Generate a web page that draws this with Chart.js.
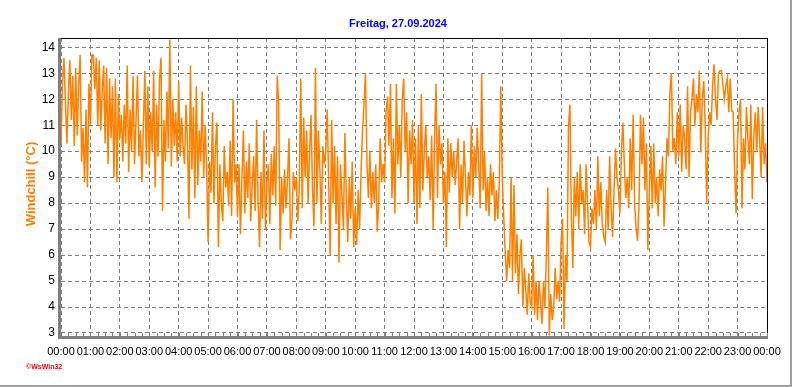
<!DOCTYPE html>
<html>
<head>
<meta charset="utf-8">
<title>Windchill 27.09.2024</title>
<script src="https://cdn.jsdelivr.net/npm/chart.js@4.4.1/dist/chart.umd.min.js"></script>
<style>
  html, body { margin: 0; padding: 0; background: #fff; }
  canvas { display: block; }
</style>
</head>
<body>
<canvas id="chart" width="792" height="387"></canvas>
<script>
// Tagesgang Windchill, WsWin32-Stil

const chartTitle = 'Freitag, 27.09.2024';
const yTitle = 'Windchill (°C)';
const hourLabels = ['00:00', '01:00', '02:00', '03:00', '04:00', '05:00', '06:00', '07:00', '08:00',
  '09:00', '10:00', '11:00', '12:00', '13:00', '14:00', '15:00', '16:00', '17:00', '18:00',
  '19:00', '20:00', '21:00', '22:00', '23:00', '00:00'];
const yTicks = [3, 4, 5, 6, 7, 8, 9, 10, 11, 12, 13, 14];
const stepMinutes = 3; // ein Messwert alle 3 Minuten

// Windchill in °C, eine Zeile pro Stunde (20 Werte)
const windchill = [
  10.2, 12.6, 13.6, 11.9, 10.3, 12.2, 13.5, 11.2, 12.9, 10.2, 13.2, 10.6, 12.5, 13.7, 9.6, 10.9, 8.8, 11.6, 8.6, 12.6,
  11.0, 13.7, 13.7, 12.4, 13.6, 11.0, 13.5, 10.8, 12.3, 13.3, 10.3, 13.2, 9.5, 12.8, 10.5, 12.5, 9.0, 12.8, 8.8, 12.2,
  10.5, 11.4, 9.6, 11.8, 10.3, 13.3, 9.2, 11.6, 10.0, 12.9, 9.5, 11.2, 12.9, 9.8, 10.8, 8.8, 11.0, 13.1, 9.5, 12.5,
  9.4, 11.5, 10.0, 13.1, 8.6, 11.8, 9.8, 12.8, 13.6, 7.7, 11.2, 9.6, 12.3, 10.1, 14.3, 9.4, 12.0, 10.2, 11.5, 9.6,
  12.7, 9.8, 11.3, 10.2, 9.5, 11.8, 10.3, 7.4, 13.3, 9.3, 11.7, 8.2, 12.5, 8.7, 10.8, 9.6, 12.3, 9.0, 11.0, 9.4,
  6.5, 9.6, 8.4, 11.5, 8.0, 10.2, 11.1, 6.3, 9.5, 8.0, 7.3, 10.2, 8.6, 9.2, 7.9, 10.4, 7.5, 12.0, 8.8, 9.5,
  7.5, 9.5, 6.8, 8.9, 10.8, 7.6, 9.6, 8.2, 10.3, 7.3, 8.7, 9.8, 7.7, 11.2, 8.0, 6.3, 9.2, 7.4, 10.8, 7.0,
  8.8, 9.5, 7.2, 9.9, 8.3, 10.2, 7.9, 12.9, 11.8, 6.2, 9.0, 7.6, 9.3, 7.8, 8.9, 10.5, 6.6, 7.3, 9.2, 8.5,
  9.0, 7.3, 8.6, 12.8, 7.8, 11.3, 9.0, 10.8, 8.0, 10.0, 11.4, 8.5, 7.1, 13.2, 8.0, 10.8, 9.3, 7.2, 10.2, 9.5,
  10.0, 11.6, 8.8, 6.0, 11.2, 8.0, 10.2, 7.2, 9.8, 5.7, 9.5, 8.3, 7.0, 10.7, 8.2, 6.5, 9.0, 7.4, 9.6, 6.3,
  7.8, 6.4, 8.5, 7.0, 9.2, 10.8, 11.8, 13.0, 9.5, 8.2, 10.0, 7.8, 9.2, 8.0, 9.5, 6.9, 8.0, 10.5, 8.8, 9.5,
  8.8, 11.5, 12.1, 10.2, 12.6, 8.2, 10.5, 7.6, 12.6, 9.5, 11.0, 9.0, 12.0, 12.8, 10.0, 11.5, 8.0, 10.8, 9.5, 11.2,
  8.0, 10.5, 7.2, 11.0, 7.8, 12.2, 8.5, 10.0, 11.0, 9.0, 9.8, 8.1, 10.6, 7.0, 10.5, 12.6, 8.2, 11.0, 9.5, 10.3,
  8.0, 9.2, 6.3, 10.5, 8.4, 10.3, 9.0, 10.0, 8.7, 9.6, 10.5, 7.0, 9.5, 8.0, 10.4, 9.0, 7.5, 9.2, 8.3, 11.0,
  8.2, 10.2, 9.0, 10.9, 9.5, 7.8, 13.0, 8.5, 10.0, 7.7, 9.0, 7.5, 9.5, 8.3, 9.2, 7.3, 8.5, 7.4, 8.8, 12.5,
  9.0, 7.5, 6.1, 5.0, 6.2, 5.5, 9.0, 5.0, 8.7, 5.3, 6.8, 4.5, 6.0, 6.6, 4.0, 5.5, 4.7, 3.7, 5.3, 4.2,
  4.0, 6.0, 3.7, 5.0, 3.5, 5.0, 4.2, 3.35, 5.0, 4.0, 6.0, 8.6, 2.9, 4.5, 3.5, 4.0, 5.5, 4.3, 5.0, 4.2,
  6.5, 7.4, 3.15, 6.0, 5.0, 10.9, 11.8, 7.5, 5.5, 9.0, 7.5, 9.2, 7.0, 9.5, 8.0, 8.5, 6.8, 9.5, 8.0, 6.5,
  6.3, 7.8, 7.2, 8.5, 7.0, 9.8, 7.5, 8.8, 7.2, 6.7, 6.5, 8.5, 7.0, 9.8, 7.8, 6.7, 8.5, 10.1, 9.0, 8.5,
  7.6, 10.0, 11.1, 9.5, 8.2, 9.0, 7.8, 10.5, 8.5, 11.4, 8.0, 7.0, 6.55, 8.0, 11.4, 9.5, 11.3, 8.5, 10.3, 6.2,
  8.5, 10.2, 7.8, 10.3, 8.0, 9.0, 7.5, 9.3, 8.5, 9.8, 7.1, 8.7, 10.5, 9.8, 12.3, 13.0, 10.0, 10.5, 9.5, 11.5,
  9.8, 11.8, 9.2, 11.0, 10.5, 9.3, 12.5, 9.0, 11.5, 12.0, 12.8, 11.0, 12.2, 11.5, 13.1, 9.95, 12.0, 12.7, 11.0, 8.0,
  10.5, 11.5, 11.0, 12.5, 13.35, 12.0, 11.2, 13.0, 13.1, 13.1, 12.6, 12.0, 12.5, 12.8, 11.5, 12.8, 11.55, 11.5, 9.2, 7.6,
  10.5, 11.5, 12.0, 7.8, 10.5, 9.3, 11.7, 10.5, 9.5, 11.8, 8.15, 10.5, 11.5, 10.0, 11.7, 10.5, 9.0, 11.7, 9.5, 10.3,
  8.8
];

const orange = '#ff8000';
const gridGray = '#808080';
const fontFamily = '"Liberation Sans", Arial, sans-serif';

// ----- Rahmen, Achsen, Texte -----
const framePlugin = {
  id: 'frame',
  afterDatasetsDraw(chart) {
    const { ctx, chartArea: a } = chart;
    ctx.save();
    // oben + rechts schwarz
    ctx.fillStyle = '#000';
    ctx.fillRect(a.left, a.top, a.right - a.left + 1, 1);
    ctx.fillRect(a.right, a.top, 1, a.bottom - a.top);
    // links + unten grau, dicker
    ctx.fillStyle = gridGray;
    ctx.fillRect(a.left - 3, a.top, 3, a.bottom - a.top + 3);
    ctx.fillRect(a.left - 3, a.bottom, a.right - a.left + 4, 3);
    // kleine Striche alle 15 Minuten
    const xs = chart.scales.x;
    for (let q = 0; q <= 96; q++) {
      const px = Math.round(xs.getPixelForValue(q / 4));
      ctx.fillRect(px, a.bottom - 3, 1, 3);
    }
    ctx.restore();
  },
  afterDraw(chart) {
    const { ctx } = chart;
    ctx.save();
    ctx.textAlign = 'center';
    ctx.textBaseline = 'middle';
    ctx.fillStyle = '#0000ff';
    ctx.font = 'bold 11px ' + fontFamily;
    ctx.fillText(chartTitle, 398, 24);

    ctx.translate(31, 184);
    ctx.rotate(-Math.PI / 2);
    ctx.fillStyle = orange;
    ctx.font = 'bold 13px ' + fontFamily;
    ctx.fillText(yTitle, 0, 0);
    ctx.restore();

    ctx.save();
    ctx.fillStyle = '#ff0000';
    ctx.font = 'bold 7px ' + fontFamily;
    ctx.textBaseline = 'middle';
    ctx.fillText('©WsWin32', 26, 367);
    // Schatten-Rand rechts/unten
    ctx.fillStyle = '#a0a0a0';
    ctx.fillRect(790, 0, 2, 387);
    ctx.fillRect(0, 385, 792, 2);
    ctx.restore();
  }
};

const points = windchill.map((v, i) => ({ x: i * stepMinutes / 60, y: v }));

new Chart(document.getElementById('chart'), {
  type: 'line',
  data: {
    datasets: [{
      label: yTitle,
      data: points,
      borderColor: orange,
      borderWidth: 1.5,
      pointRadius: 0,
      tension: 0,
      fill: false
    }]
  },
  options: {
    responsive: false,
    animation: false,
    devicePixelRatio: 1,
    layout: { padding: { left: 0, top: 38, right: 25, bottom: 21 } },
    plugins: { legend: { display: false }, tooltip: { enabled: false } },
    scales: {
      x: {
        type: 'linear',
        min: 0,
        max: 24,
        afterBuildTicks: s => { s.ticks = hourLabels.map((l, i) => ({ value: i })); },
        afterFit: s => { s.height = 30; },
        ticks: {
          autoSkip: false,
          maxRotation: 0,
          padding: 9,
          color: '#000',
          font: { family: fontFamily, size: 11 },
          callback: (v, i) => hourLabels[i]
        },
        grid: { color: gridGray, lineWidth: 1, drawTicks: false },
        border: { display: false, dash: [4, 3] }
      },
      y: {
        min: 2.884,
        max: 14.358,
        afterBuildTicks: s => { s.ticks = yTicks.map(v => ({ value: v })); },
        afterFit: s => { s.width = 61; },
        ticks: {
          padding: 6,
          color: '#000',
          font: { family: fontFamily, size: 12 }
        },
        grid: { color: gridGray, lineWidth: 1, drawTicks: false },
        border: { display: false, dash: [4, 3] }
      }
    }
  },
  plugins: [framePlugin]
});
</script>
</body>
</html>
